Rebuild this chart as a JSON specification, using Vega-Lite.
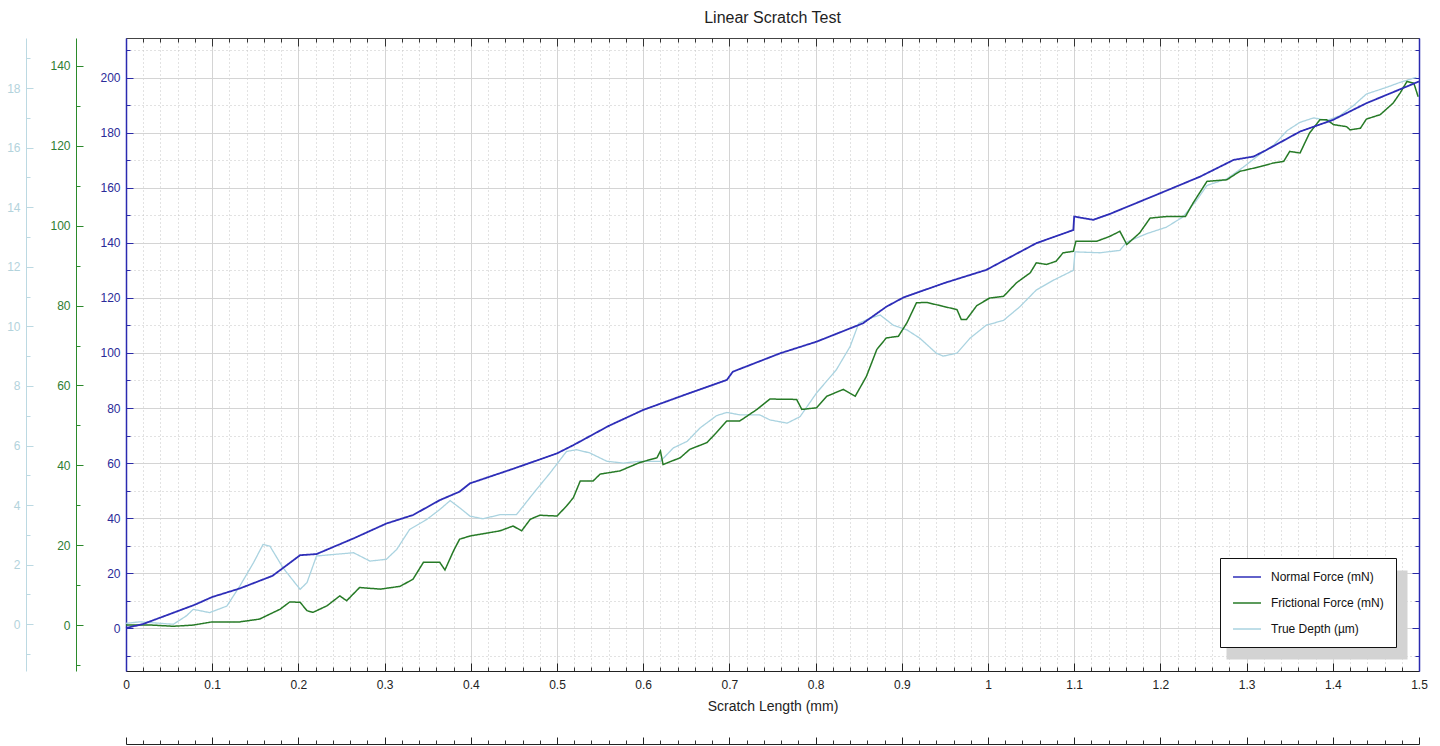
{
 "$schema": "https://vega.github.io/schema/vega-lite/v6.json",
 "width": 1293,
 "height": 633,
 "autosize": {"type": "none"},
 "padding": {"left": 126, "top": 38, "right": 21, "bottom": 75},
 "background": "white",
 "title": {"text": "Linear Scratch Test", "fontSize": 16, "font": "Liberation Sans", "fontWeight": "normal", "color": "#1e1e1e", "offset": -1, "baseline": "alphabetic", "anchor": "middle"},
 "config": {
  "view": {"stroke": null},
  "font": "Liberation Sans",
  "axis": {"labelFont": "Liberation Sans", "labelFontSize": 12, "titleFont": "Liberation Sans", "titleFontWeight": "normal", "gridColor": "#d4d4d4", "gridWidth": 1, "domainWidth": 1, "labelFlush": false, "labelOverlap": false}
 },
 "datasets": {
  "normal": [
   {"x":0,"v":0},{"x":0.02,"v":1.5},{"x":0.05,"v":5},{"x":0.08,"v":8.5},{"x":0.1,"v":11.3},{"x":0.132,"v":14.4},{"x":0.17,"v":19},{"x":0.202,"v":26.5},{"x":0.221,"v":26.9},{"x":0.264,"v":32.6},{"x":0.302,"v":38},{"x":0.333,"v":41.1},{"x":0.364,"v":46.5},{"x":0.387,"v":49.6},{"x":0.399,"v":52.6},{"x":0.45,"v":58},{"x":0.5,"v":63.5},{"x":0.519,"v":66.5},{"x":0.56,"v":73.5},{"x":0.6,"v":79.3},{"x":0.65,"v":85},{"x":0.697,"v":90.2},{"x":0.704,"v":93.2},{"x":0.759,"v":99.9},{"x":0.801,"v":104.1},{"x":0.855,"v":110.8},{"x":0.882,"v":116.8},{"x":0.902,"v":120.2},{"x":0.95,"v":125.5},{"x":0.998,"v":130.2},{"x":1.056,"v":139.9},{"x":1.099,"v":144.7},{"x":1.1,"v":149.6},{"x":1.122,"v":148.4},{"x":1.141,"v":150.5},{"x":1.2,"v":158.1},{"x":1.246,"v":164.1},{"x":1.285,"v":170.2},{"x":1.308,"v":171.4},{"x":1.323,"v":173.8},{"x":1.362,"v":180.5},{"x":1.4,"v":184.7},{"x":1.439,"v":190.8},{"x":1.5,"v":198.7}
  ],
  "friction": [
   {"x":0,"v":0},{"x":0.03,"v":0},{"x":0.055,"v":-0.3},{"x":0.078,"v":0},{"x":0.1,"v":0.8},{"x":0.132,"v":0.8},{"x":0.155,"v":1.5},{"x":0.179,"v":4},{"x":0.19,"v":5.8},{"x":0.202,"v":5.7},{"x":0.21,"v":3.6},{"x":0.217,"v":3.2},{"x":0.233,"v":4.8},{"x":0.248,"v":7.3},{"x":0.256,"v":6.1},{"x":0.271,"v":9.4},{"x":0.295,"v":9},{"x":0.318,"v":9.7},{"x":0.333,"v":11.5},{"x":0.345,"v":15.7},{"x":0.364,"v":15.7},{"x":0.37,"v":13.8},{"x":0.38,"v":18.6},{"x":0.387,"v":21.5},{"x":0.399,"v":22.3},{"x":0.434,"v":23.6},{"x":0.449,"v":24.8},{"x":0.459,"v":23.6},{"x":0.469,"v":26.5},{"x":0.48,"v":27.5},{"x":0.5,"v":27.3},{"x":0.511,"v":29.8},{"x":0.519,"v":31.9},{"x":0.527,"v":36.1},{"x":0.542,"v":36.1},{"x":0.55,"v":37.8},{"x":0.573,"v":38.6},{"x":0.596,"v":40.7},{"x":0.616,"v":41.9},{"x":0.62,"v":43.6},{"x":0.623,"v":40.2},{"x":0.643,"v":41.9},{"x":0.654,"v":44},{"x":0.674,"v":45.7},{"x":0.685,"v":48.2},{"x":0.697,"v":51.1},{"x":0.712,"v":51.1},{"x":0.732,"v":54},{"x":0.747,"v":56.6},{"x":0.778,"v":56.5},{"x":0.784,"v":54},{"x":0.801,"v":54.4},{"x":0.813,"v":57.3},{"x":0.832,"v":59},{"x":0.846,"v":57.3},{"x":0.859,"v":62.3},{"x":0.871,"v":69},{"x":0.882,"v":71.9},{"x":0.896,"v":72.3},{"x":0.906,"v":75.7},{"x":0.917,"v":80.7},{"x":0.929,"v":80.8},{"x":0.948,"v":79.8},{"x":0.964,"v":79},{"x":0.969,"v":76.5},{"x":0.975,"v":76.5},{"x":0.987,"v":80},{"x":1.002,"v":81.9},{"x":1.018,"v":82.3},{"x":1.033,"v":85.7},{"x":1.049,"v":88.2},{"x":1.056,"v":90.7},{"x":1.068,"v":90.3},{"x":1.079,"v":91.1},{"x":1.087,"v":93.2},{"x":1.099,"v":93.6},{"x":1.102,"v":96.1},{"x":1.126,"v":96.1},{"x":1.141,"v":97.3},{"x":1.153,"v":98.6},{"x":1.161,"v":95.3},{"x":1.176,"v":98.2},{"x":1.188,"v":101.9},{"x":1.207,"v":102.3},{"x":1.229,"v":102.3},{"x":1.238,"v":105.7},{"x":1.254,"v":111.1},{"x":1.277,"v":111.5},{"x":1.292,"v":113.6},{"x":1.316,"v":114.8},{"x":1.331,"v":115.7},{"x":1.343,"v":116.1},{"x":1.35,"v":118.6},{"x":1.362,"v":118.2},{"x":1.373,"v":123.2},{"x":1.385,"v":126.5},{"x":1.393,"v":126.5},{"x":1.401,"v":125.3},{"x":1.416,"v":124.8},{"x":1.42,"v":124},{"x":1.432,"v":124.4},{"x":1.439,"v":126.7},{"x":1.455,"v":127.8},{"x":1.47,"v":130.7},{"x":1.478,"v":133.2},{"x":1.486,"v":136.1},{"x":1.494,"v":135.7},{"x":1.499,"v":132.3}
  ],
  "depth": [
   {"x":0,"v":0.03},{"x":0.016,"v":0.08},{"x":0.04,"v":0.03},{"x":0.055,"v":0},{"x":0.07,"v":0.28},{"x":0.078,"v":0.5},{"x":0.097,"v":0.39},{"x":0.117,"v":0.61},{"x":0.132,"v":1.28},{"x":0.148,"v":2.07},{"x":0.159,"v":2.68},{"x":0.167,"v":2.62},{"x":0.182,"v":1.9},{"x":0.202,"v":1.17},{"x":0.21,"v":1.4},{"x":0.221,"v":2.29},{"x":0.24,"v":2.34},{"x":0.264,"v":2.4},{"x":0.283,"v":2.12},{"x":0.302,"v":2.18},{"x":0.314,"v":2.51},{"x":0.329,"v":3.18},{"x":0.349,"v":3.52},{"x":0.364,"v":3.85},{"x":0.376,"v":4.15},{"x":0.387,"v":3.91},{"x":0.399,"v":3.63},{"x":0.414,"v":3.54},{"x":0.434,"v":3.68},{"x":0.453,"v":3.68},{"x":0.473,"v":4.41},{"x":0.492,"v":5.08},{"x":0.511,"v":5.8},{"x":0.523,"v":5.86},{"x":0.538,"v":5.75},{"x":0.558,"v":5.47},{"x":0.577,"v":5.41},{"x":0.596,"v":5.47},{"x":0.62,"v":5.47},{"x":0.635,"v":5.92},{"x":0.651,"v":6.14},{"x":0.666,"v":6.59},{"x":0.685,"v":7.0},{"x":0.697,"v":7.11},{"x":0.712,"v":7.03},{"x":0.735,"v":7.03},{"x":0.747,"v":6.86},{"x":0.767,"v":6.75},{"x":0.782,"v":6.97},{"x":0.801,"v":7.76},{"x":0.824,"v":8.54},{"x":0.84,"v":9.32},{"x":0.85,"v":10.1},{"x":0.863,"v":10.27},{"x":0.875,"v":10.38},{"x":0.89,"v":10.04},{"x":0.906,"v":9.88},{"x":0.921,"v":9.6},{"x":0.94,"v":9.1},{"x":0.948,"v":9.0},{"x":0.964,"v":9.1},{"x":0.979,"v":9.6},{"x":0.998,"v":10.04},{"x":1.018,"v":10.2},{"x":1.037,"v":10.66},{"x":1.056,"v":11.22},{"x":1.076,"v":11.55},{"x":1.099,"v":11.88},{"x":1.101,"v":12.5},{"x":1.13,"v":12.47},{"x":1.153,"v":12.55},{"x":1.161,"v":12.83},{"x":1.184,"v":13.11},{"x":1.207,"v":13.33},{"x":1.226,"v":13.67},{"x":1.242,"v":14.23},{"x":1.254,"v":14.73},{"x":1.277,"v":14.95},{"x":1.296,"v":15.34},{"x":1.316,"v":15.79},{"x":1.331,"v":16.07},{"x":1.347,"v":16.57},{"x":1.362,"v":16.85},{"x":1.378,"v":17.0},{"x":1.393,"v":16.91},{"x":1.408,"v":17.07},{"x":1.424,"v":17.41},{"x":1.439,"v":17.8},{"x":1.462,"v":18.02},{"x":1.478,"v":18.19},{"x":1.497,"v":18.36}
  ]
 },
 "resolve": {"scale": {"y": "independent"}, "axis": {"x": "independent", "y": "independent"}},
 "layer": [
  {
   "data": {"name": "depth"},
   "mark": {"type": "line", "strokeWidth": 1.3},
   "encoding": {
    "x": {"field": "x", "type": "quantitative", "scale": {"domain": [0, 1.5], "nice": false, "zero": false},
     "axis": {"orient": "bottom", "values": [0.02,0.04,0.06,0.08,0.12,0.14,0.16,0.18,0.22,0.24,0.26,0.28,0.32,0.34,0.36,0.38,0.42,0.44,0.46,0.48,0.52,0.54,0.56,0.58,0.62,0.64,0.66,0.68,0.72,0.74,0.76,0.78,0.82,0.84,0.86,0.88,0.92,0.94,0.96,0.98,1.02,1.04,1.06,1.08,1.12,1.14,1.16,1.18,1.22,1.24,1.26,1.28,1.32,1.34,1.36,1.38,1.42,1.44,1.46,1.48], "grid": true, "gridDash": [1, 3], "gridColor": "#c4c4c4", "gridWidth": 1, "ticks": true, "tickSize": -4, "tickColor": "#333", "labels": false, "domain": false, "title": null}},
    "y": {"field": "v", "type": "quantitative", "scale": {"domain": [-1.57, 19.68], "nice": false, "zero": false},
     "axis": {"orient": "left", "offset": 100, "values": [0,2,4,6,8,10,12,14,16,18], "grid": false, "tickSize": -7, "labelPadding": 13, "tickColor": "#bcd9e2", "domainColor": "#bcd9e2", "labelColor": "#b3d3dc", "title": null}},
    "color": {"datum": "True Depth (µm)", "type": "nominal", "scale": {"domain": ["Normal Force (mN)", "Frictional Force (mN)", "True Depth (µm)"], "range": ["#2e2eb8", "#267a26", "#aad3e0"]},
     "legend": {"title": null, "orient": "none", "legendX": 1094, "legendY": 520, "fillColor": "white", "strokeColor": "#111", "padding": 12, "symbolType": "M-2.33,0H2.33", "symbolSize": 144, "symbolStrokeWidth": 1.5, "symbolOffset": 8, "labelOffset": 17, "rowPadding": 13, "labelFontSize": 12, "labelFont": "Liberation Sans", "labelColor": "#111", "labelLimit": 300, "zindex": 2}},
    "strokeDash": {"datum": "True Depth (µm)", "type": "nominal", "scale": {"domain": ["Normal Force (mN)", "Frictional Force (mN)", "True Depth (µm)"], "range": [[1, 0], [1, 0], [1, 0]]},
     "legend": {"title": null, "orient": "bottom-right", "offset": 12, "fillColor": "#d3d3d3", "strokeColor": "transparent", "padding": 12, "symbolType": "M-1,0H24.67", "symbolSize": 144, "symbolStrokeWidth": 1, "symbolOffset": 0, "symbolStrokeColor": "transparent", "labelExpr": "''", "labelOffset": 0, "rowPadding": 13, "labelFontSize": 12, "labelFont": "Liberation Sans", "labelColor": "transparent", "zindex": 1}}
   }
  },
  {
   "data": {"name": "friction"},
   "mark": {"type": "line", "strokeWidth": 1.5},
   "encoding": {
    "x": {"field": "x", "type": "quantitative", "scale": {"domain": [0, 1.5], "nice": false, "zero": false},
     "axis": {"orient": "top", "values": [0,0.1,0.2,0.3,0.4,0.5,0.6,0.7,0.8,0.9,1,1.1,1.2,1.3,1.4,1.5], "grid": false, "tickSize": -8, "tickColor": "#333", "domainColor": "#444", "labels": false, "title": null}},
    "y": {"field": "v", "type": "quantitative", "scale": {"domain": [-11.5, 147], "nice": false, "zero": false},
     "axis": {"orient": "left", "offset": 50, "values": [0,20,40,60,80,100,120,140], "grid": false, "tickSize": -7, "labelPadding": 13, "tickColor": "#2b8a2b", "domainColor": "#2b8a2b", "labelColor": "#2e7d32", "title": null}},
    "color": {"datum": "Frictional Force (mN)", "type": "nominal"},
    "strokeDash": {"datum": "Frictional Force (mN)", "type": "nominal"}
   }
  },
  {
   "data": {"name": "normal"},
   "mark": {"type": "line", "strokeWidth": 1.8},
   "encoding": {
    "x": {"field": "x", "type": "quantitative", "scale": {"domain": [0, 1.5], "nice": false, "zero": false},
     "axis": {"orient": "bottom", "values": [0,0.1,0.2,0.3,0.4,0.5,0.6,0.7,0.8,0.9,1,1.1,1.2,1.3,1.4,1.5], "format": "~g", "grid": true, "tickSize": -8, "tickColor": "#222", "domainColor": "#222", "labelColor": "#222", "labelPadding": 16, "title": "Scratch Length (mm)", "titleFontSize": 14, "titleColor": "#222", "titlePadding": 9}},
    "y": {"field": "v", "type": "quantitative", "scale": {"domain": [-15.6, 214.5], "nice": false, "zero": false},
     "axis": {"orient": "left", "offset": 0, "values": [0,20,40,60,80,100,120,140,160,180,200], "grid": true, "tickSize": -7, "labelPadding": 13, "tickColor": "#2a2aa8", "domainColor": "#2a2ab0", "domainWidth": 1.5, "labelColor": "#2b2b99", "title": null}},
    "color": {"datum": "Normal Force (mN)", "type": "nominal"},
    "strokeDash": {"datum": "Normal Force (mN)", "type": "nominal"}
   }
  },
  {
   "data": {"name": "normal"},
   "mark": {"type": "line", "strokeOpacity": 0},
   "encoding": {
    "x": {"field": "x", "type": "quantitative", "scale": {"domain": [0, 1.5], "nice": false, "zero": false},
     "axis": {"orient": "top", "values": [0.02,0.04,0.06,0.08,0.12,0.14,0.16,0.18,0.22,0.24,0.26,0.28,0.32,0.34,0.36,0.38,0.42,0.44,0.46,0.48,0.52,0.54,0.56,0.58,0.62,0.64,0.66,0.68,0.72,0.74,0.76,0.78,0.82,0.84,0.86,0.88,0.92,0.94,0.96,0.98,1.02,1.04,1.06,1.08,1.12,1.14,1.16,1.18,1.22,1.24,1.26,1.28,1.32,1.34,1.36,1.38,1.42,1.44,1.46,1.48], "grid": false, "tickSize": -4, "tickColor": "#333", "domain": false, "labels": false, "title": null}},
    "y": {"field": "v", "type": "quantitative", "scale": {"domain": [-15.6, 214.5], "nice": false, "zero": false},
     "axis": {"orient": "right", "values": [0,20,40,60,80,100,120,140,160,180,200], "grid": false, "tickSize": -7, "tickColor": "#2a2aa8", "domainColor": "#2a2ab0", "domainWidth": 1.5, "labels": false, "title": null}}
   }
  },
  {
   "data": {"name": "normal"},
   "mark": {"type": "line", "strokeOpacity": 0},
   "encoding": {
    "x": {"field": "x", "type": "quantitative", "scale": {"domain": [0, 1.5], "nice": false, "zero": false},
     "axis": {"orient": "bottom", "offset": 73, "values": [0,0.1,0.2,0.3,0.4,0.5,0.6,0.7,0.8,0.9,1,1.1,1.2,1.3,1.4,1.5], "grid": false, "tickSize": -7, "tickColor": "#222", "domainColor": "#222", "labels": false, "title": null}},
    "y": {"field": "v", "type": "quantitative", "scale": {"domain": [-15.6, 214.5], "nice": false, "zero": false},
     "axis": {"orient": "left", "values": [-10,10,30,50,70,90,110,130,150,170,190,210], "grid": true, "gridDash": [1, 3], "gridColor": "#c4c4c4", "tickSize": -4, "tickColor": "#2a2aa8", "domain": false, "labels": false, "title": null}}
   }
  },
  {
   "data": {"name": "normal"},
   "mark": {"type": "line", "strokeOpacity": 0},
   "encoding": {
    "x": {"field": "x", "type": "quantitative", "scale": {"domain": [0, 1.5], "nice": false, "zero": false},
     "axis": {"orient": "bottom", "offset": 73, "values": [0.02,0.04,0.06,0.08,0.12,0.14,0.16,0.18,0.22,0.24,0.26,0.28,0.32,0.34,0.36,0.38,0.42,0.44,0.46,0.48,0.52,0.54,0.56,0.58,0.62,0.64,0.66,0.68,0.72,0.74,0.76,0.78,0.82,0.84,0.86,0.88,0.92,0.94,0.96,0.98,1.02,1.04,1.06,1.08,1.12,1.14,1.16,1.18,1.22,1.24,1.26,1.28,1.32,1.34,1.36,1.38,1.42,1.44,1.46,1.48], "grid": false, "tickSize": -4, "tickColor": "#333", "domain": false, "labels": false, "title": null}},
    "y": {"field": "v", "type": "quantitative", "scale": {"domain": [-15.6, 214.5], "nice": false, "zero": false},
     "axis": {"orient": "right", "values": [-10,10,30,50,70,90,110,130,150,170,190,210], "grid": false, "tickSize": -4, "tickColor": "#2a2aa8", "domain": false, "labels": false, "title": null}}
   }
  },
  {
   "data": {"name": "friction"},
   "mark": {"type": "line", "strokeOpacity": 0},
   "encoding": {
    "x": {"field": "x", "type": "quantitative", "scale": {"domain": [0, 1.5], "nice": false, "zero": false}, "axis": null},
    "y": {"field": "v", "type": "quantitative", "scale": {"domain": [-11.5, 147], "nice": false, "zero": false},
     "axis": {"orient": "left", "offset": 50, "values": [-10,10,30,50,70,90,110,130], "grid": false, "tickSize": -4, "tickColor": "#2b8a2b", "domain": false, "labels": false, "title": null}}
   }
  },
  {
   "data": {"name": "depth"},
   "mark": {"type": "line", "strokeOpacity": 0},
   "encoding": {
    "x": {"field": "x", "type": "quantitative", "scale": {"domain": [0, 1.5], "nice": false, "zero": false}, "axis": null},
    "y": {"field": "v", "type": "quantitative", "scale": {"domain": [-1.57, 19.68], "nice": false, "zero": false},
     "axis": {"orient": "left", "offset": 100, "values": [-1,1,3,5,7,9,11,13,15,17,19], "grid": false, "tickSize": -4, "tickColor": "#bcd9e2", "domain": false, "labels": false, "title": null}}
   }
  }
 ]
}
